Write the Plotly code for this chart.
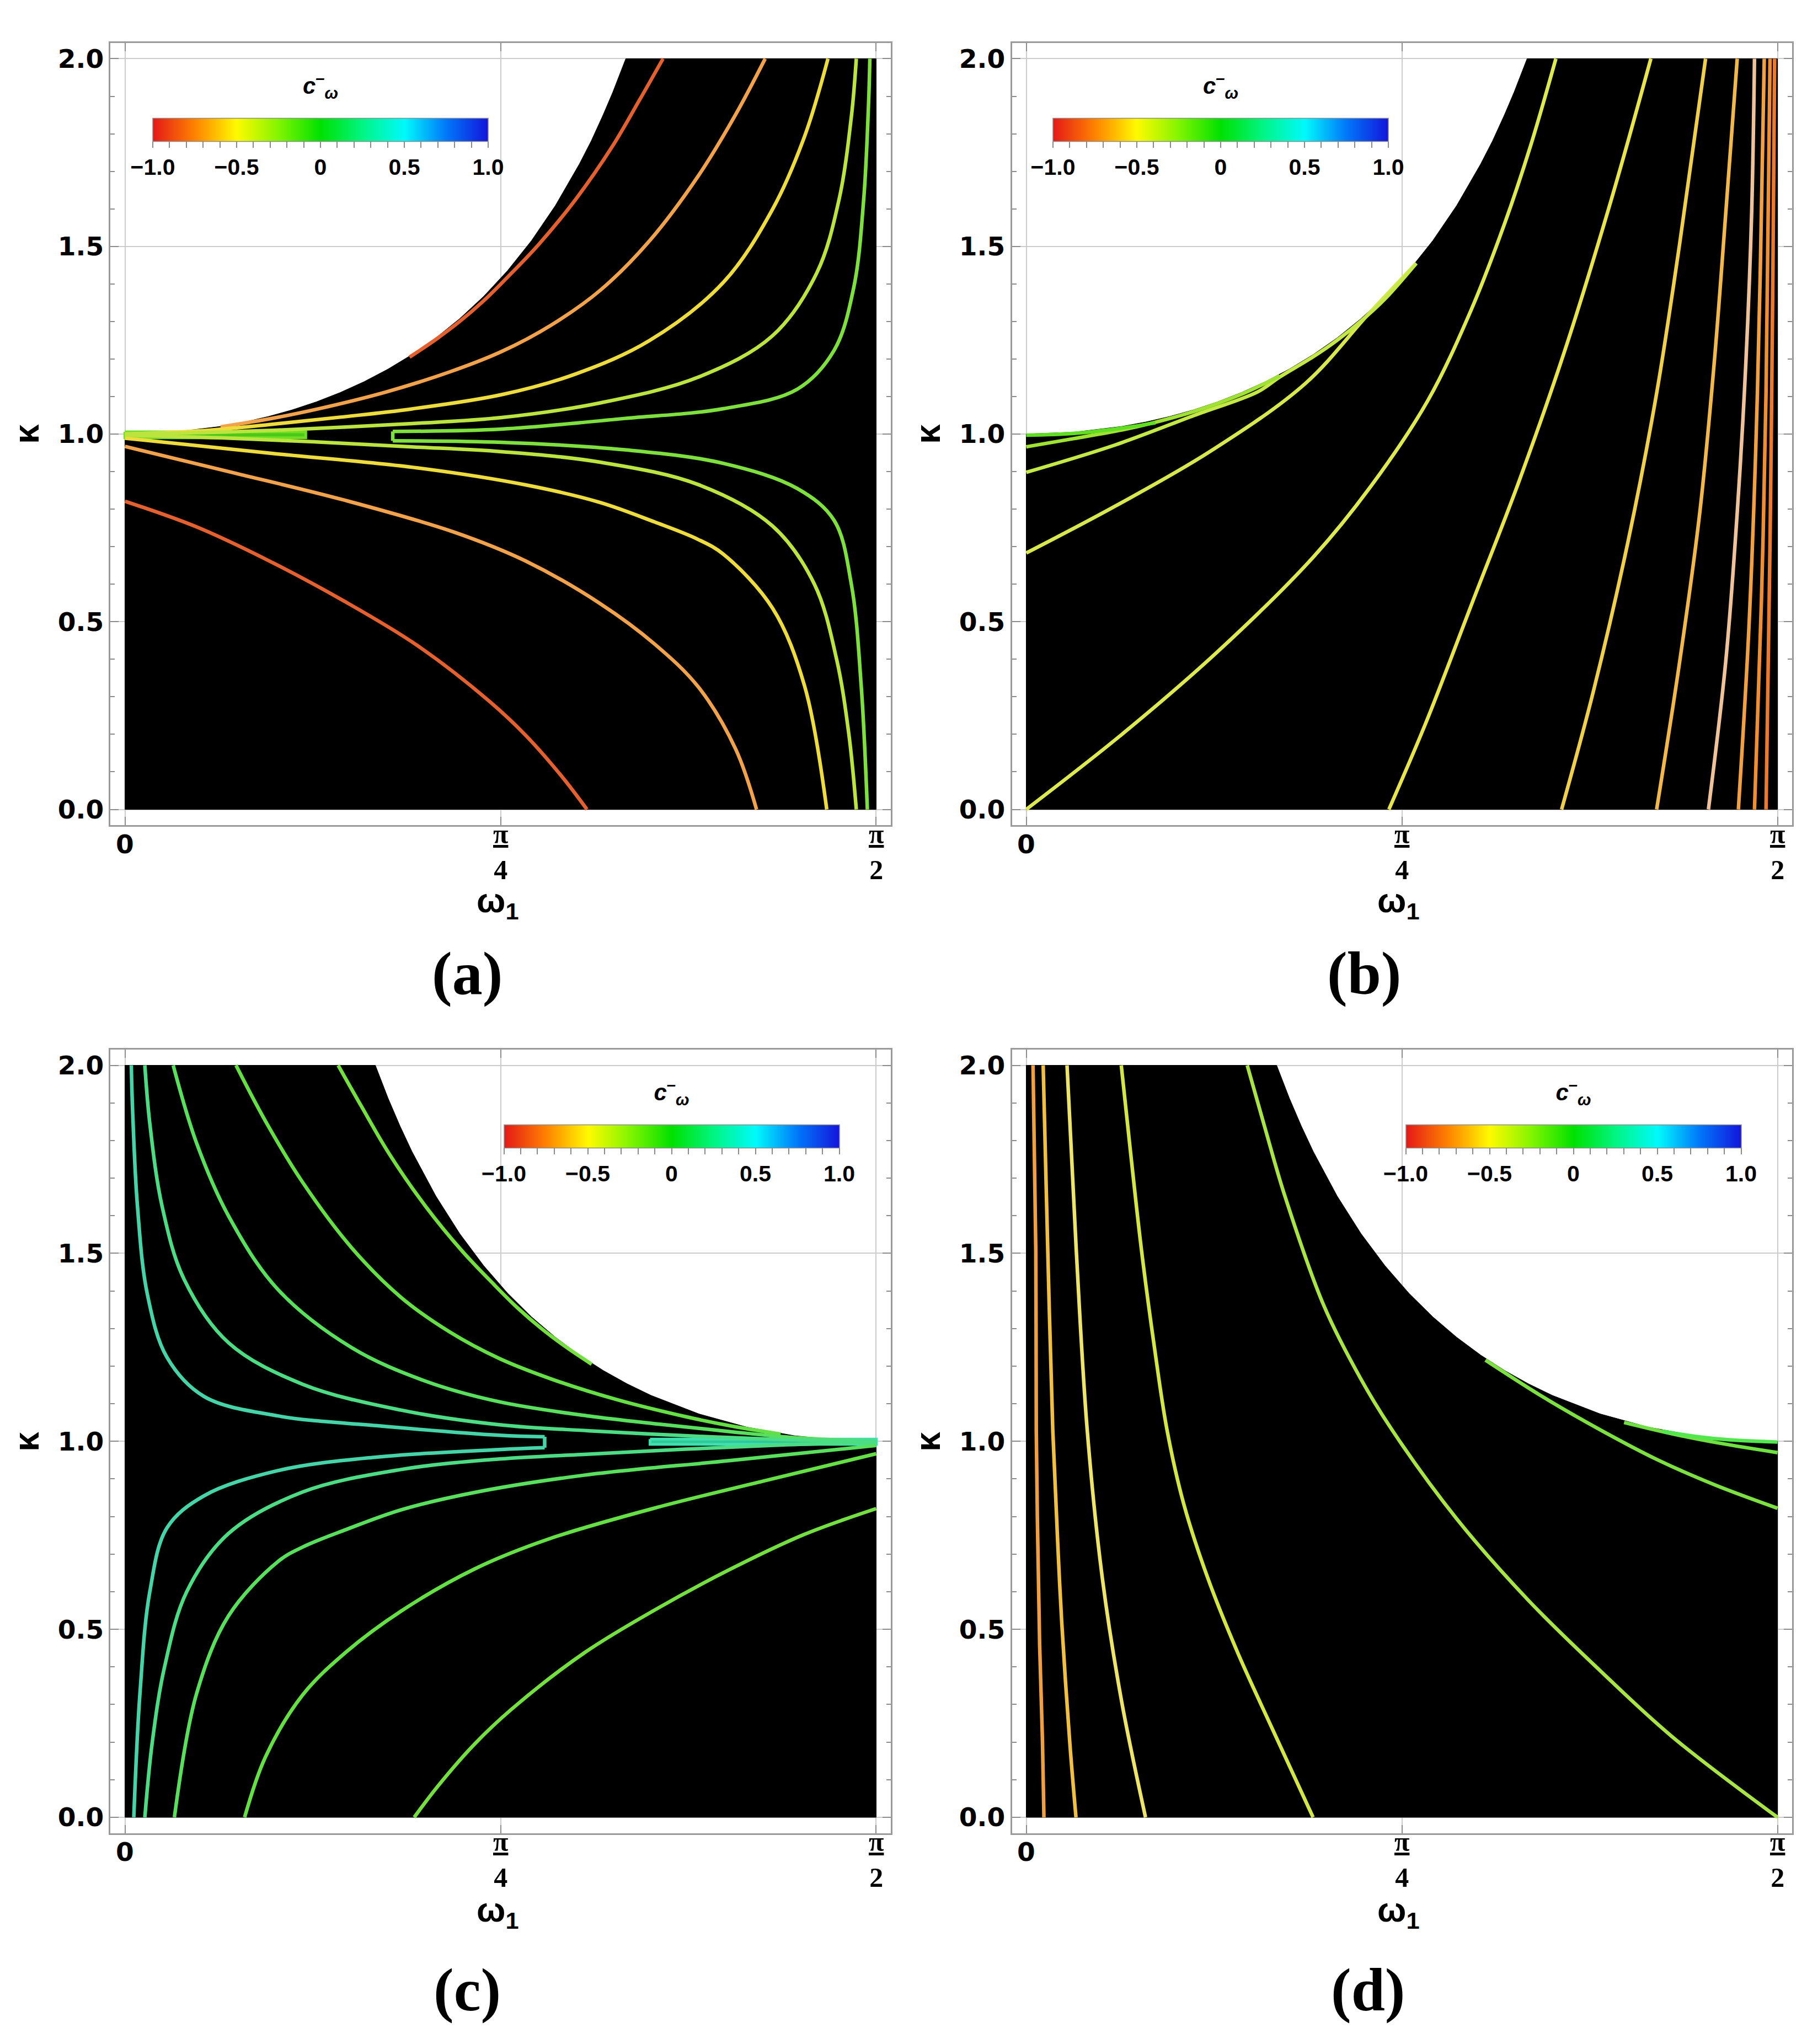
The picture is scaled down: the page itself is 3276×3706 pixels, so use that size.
import math
import plotly.graph_objects as go

# ---------------- data ----------------
# boundary of the allowed (black) region
sec_w = [0.0, 0.1, 0.2, 0.25, 0.3, 0.35, 0.4, 0.45, 0.5, 0.55, 0.6, 0.65, 0.7, 0.75, 0.8, 0.85, 0.9, 0.95, 0.975, 1.0, 1.02, 1.0472]
sec_k = [1.0, 1.005, 1.0203, 1.0321, 1.0468, 1.0645, 1.0857, 1.1106, 1.1395, 1.1730, 1.2116, 1.2561, 1.3075, 1.3667, 1.4353, 1.5152, 1.6087, 1.7191, 1.781, 1.8508, 1.9106, 2.0]
csc_w = [0.5236, 0.55, 0.575, 0.6, 0.65, 0.7, 0.75, 0.8, 0.85, 0.9, 0.95, 1.0, 1.05, 1.1, 1.2, 1.3, 1.4, 1.5, 1.5708]
csc_k = [2.0, 1.9131, 1.8389, 1.7710, 1.6524, 1.5523, 1.4671, 1.3940, 1.3310, 1.2767, 1.2294, 1.1884, 1.1529, 1.1221, 1.0729, 1.0378, 1.0148, 1.0025, 1.0]

# panel (a)
a_u1_w = [0.595, 0.65, 0.70, 0.75, 0.80, 0.865, 0.9422, 1.0194, 1.076, 1.125]
a_u1_k = [1.205, 1.252, 1.300, 1.355, 1.418, 1.505, 1.625, 1.767, 1.8902, 2.0]
a_l1_w = [0.0, 0.151, 0.304, 0.4573, 0.6103, 0.7633, 0.8398, 0.9163, 0.966]
a_l1_k = [0.821, 0.752, 0.6605, 0.5556, 0.4375, 0.2866, 0.1948, 0.0833, 0.0]
a_u2_w = [0.20, 0.234, 0.30, 0.40, 0.5455, 0.68, 0.7877, 0.8907, 0.9937, 1.0966, 1.1996, 1.2769, 1.3386]
a_u2_k = [1.019, 1.026, 1.040, 1.066, 1.112, 1.166, 1.220, 1.290, 1.383, 1.5145, 1.6894, 1.8514, 2.0]
a_l2_w = [0.0, 0.2278, 0.4573, 0.6868, 0.8398, 0.9928, 1.108, 1.1996, 1.2769, 1.3206]
a_l2_k = [0.967, 0.8967, 0.8245, 0.7393, 0.6605, 0.549, 0.44, 0.325, 0.1608, 0.0]
a_u3_w = [0.0, 0.15, 0.30, 0.45, 0.60, 0.7877, 0.9422, 1.0966, 1.2511, 1.3541, 1.4210, 1.4699]
a_u3_k = [1.0, 1.008, 1.025, 1.045, 1.067, 1.105, 1.160, 1.249, 1.404, 1.599, 1.793, 2.0]
a_l3_w = [0.0, 0.304, 0.6103, 0.8398, 0.9928, 1.108, 1.1978, 1.2511, 1.3541, 1.4210, 1.4674]
a_l3_k = [0.989, 0.949, 0.910, 0.864, 0.818, 0.7655, 0.7196, 0.680, 0.536, 0.329, 0.0]
a_u4_w = [0.0, 0.2, 0.4, 0.6, 0.7877, 0.9937, 1.1996, 1.3541, 1.4468, 1.4931, 1.5188, 1.5292]
a_u4_k = [1.0, 1.005, 1.015, 1.028, 1.044, 1.083, 1.152, 1.262, 1.430, 1.625, 1.845, 2.0]
a_l4_w = [0.0, 0.2, 0.4, 0.6, 0.7877, 0.9937, 1.1996, 1.3541, 1.4416, 1.4880, 1.5137, 1.5292]
a_l4_k = [0.997, 0.990, 0.979, 0.966, 0.953, 0.925, 0.865, 0.755, 0.600, 0.400, 0.1995, 0.0]
a_u5_w = [0.56, 0.7877, 1.0452, 1.2511, 1.4056, 1.4828, 1.5240, 1.5446, 1.5549, 1.5575]
a_u5_k = [1.007, 1.0132, 1.0417, 1.0676, 1.1194, 1.2231, 1.3915, 1.6247, 1.8838, 2.0]
a_l5_w = [0.56, 0.7877, 1.0452, 1.2511, 1.4056, 1.4828, 1.5188, 1.5394, 1.5523]
a_l5_k = [0.982, 0.978, 0.958, 0.922, 0.855, 0.770, 0.600, 0.330, 0.0]
a_h2_w = [0.56, 0.56]
a_h2_k = [1.007, 0.982]
a_h1_w = [0.0, 0.378, 0.378, 0.0, 0.0]
a_h1_k = [1.006, 1.006, 0.990, 0.990, 1.006]

# panel (b)
b_1_w = [0.0, 0.1, 0.2, 0.27]
b_1_k = [0.997, 1.002, 1.016, 1.030]
b_2_w = [0.0, 0.1, 0.2, 0.2654, 0.35, 0.45, 0.53]
b_2_k = [0.966, 0.988, 1.011, 1.030, 1.060, 1.106, 1.155]
b_3_w = [0.0, 0.186, 0.3517, 0.4841, 0.53, 0.6, 0.65, 0.7, 0.75, 0.8155]
b_3_k = [0.898, 0.971, 1.050, 1.1126, 1.152, 1.206, 1.250, 1.301, 1.360, 1.455]
b_4_w = [0.0, 0.186, 0.3848, 0.5835, 0.7161, 0.8155]
b_4_k = [0.683, 0.808, 0.954, 1.1347, 1.3205, 1.455]
b_5_w = [0.0, 0.2, 0.4, 0.6, 0.72, 0.84, 0.93, 1.0, 1.055, 1.1074]
b_5_k = [0.0, 0.20, 0.42, 0.672, 0.86, 1.09, 1.33, 1.56, 1.77, 2.0]
b_6_w = [0.7583, 0.8366, 0.9329, 1.0292, 1.1255, 1.2218, 1.3060]
b_6_k = [0.0, 0.2339, 0.5521, 0.8703, 1.2204, 1.6181, 2.0]
b_7_w = [1.1194, 1.1856, 1.2579, 1.3181, 1.3662, 1.4204]
b_7_k = [0.0, 0.3134, 0.7112, 1.109, 1.5068, 2.0]
b_8_w = [1.3181, 1.3662, 1.4083, 1.4384, 1.4625, 1.4866]
b_8_k = [0.0, 0.393, 0.7908, 1.1886, 1.5863, 2.0]
b_9_w = [1.4264, 1.4625, 1.4866, 1.5046, 1.5167, 1.5227]
b_9_k = [0.0, 0.393, 0.7908, 1.1886, 1.5863, 2.0]
b_10_w = [1.4890, 1.5106, 1.5251, 1.5347, 1.5431]
b_10_k = [0.0, 0.4726, 0.9499, 1.4272, 2.0]
b_11_w = [1.5227, 1.5371, 1.5468, 1.5552]
b_11_k = [0.0, 0.5521, 1.109, 2.0]
b_12_w = [1.5468, 1.5552, 1.5612, 1.5648]
b_12_k = [0.0, 0.7112, 1.4272, 2.0]

# panel (c)
c_u1_w = [0.4458, 0.4948, 0.5514, 0.6286, 0.7058, 0.7708, 0.8208, 0.8708, 0.9208, 0.9758]
c_u1_k = [2.0, 1.8902, 1.767, 1.625, 1.505, 1.418, 1.355, 1.300, 1.252, 1.205]
c_l1_w = [0.6048, 0.6545, 0.7310, 0.8075, 0.9605, 1.1135, 1.2668, 1.4198, 1.5708]
c_l1_k = [0.0, 0.0833, 0.1948, 0.2866, 0.4375, 0.5556, 0.6605, 0.752, 0.821]
c_u2_w = [0.2322, 0.2939, 0.3712, 0.4742, 0.5771, 0.6801, 0.7831, 0.8908, 1.0253, 1.1708, 1.2708, 1.3368, 1.3708]
c_u2_k = [2.0, 1.8514, 1.6894, 1.5145, 1.383, 1.290, 1.220, 1.166, 1.112, 1.066, 1.040, 1.026, 1.019]
c_l2_w = [0.2502, 0.2939, 0.3712, 0.4628, 0.5780, 0.7310, 0.8840, 1.1135, 1.3430, 1.5708]
c_l2_k = [0.0, 0.1608, 0.325, 0.44, 0.549, 0.6605, 0.7393, 0.8245, 0.8967, 0.967]
c_u3_w = [0.1009, 0.1498, 0.2167, 0.3197, 0.4742, 0.6286, 0.7831, 0.9708, 1.1208, 1.2708, 1.4208, 1.5708]
c_u3_k = [2.0, 1.793, 1.599, 1.404, 1.249, 1.160, 1.105, 1.067, 1.045, 1.025, 1.008, 1.0]
c_l3_w = [0.1034, 0.1498, 0.2167, 0.3197, 0.3730, 0.4628, 0.5780, 0.7310, 0.9605, 1.2668, 1.5708]
c_l3_k = [0.0, 0.329, 0.536, 0.680, 0.7196, 0.7655, 0.818, 0.864, 0.910, 0.949, 0.989]
c_u4_w = [0.0416, 0.0520, 0.0777, 0.1240, 0.2167, 0.3712, 0.5771, 0.7831, 0.9708, 1.1708, 1.3708, 1.5708]
c_u4_k = [2.0, 1.845, 1.625, 1.430, 1.262, 1.152, 1.083, 1.044, 1.028, 1.015, 1.005, 1.0]
c_l4_w = [0.0416, 0.0571, 0.0828, 0.1292, 0.2167, 0.3712, 0.5771, 0.7831, 0.9708, 1.1708, 1.3708, 1.5708]
c_l4_k = [0.0, 0.1995, 0.400, 0.600, 0.755, 0.865, 0.925, 0.953, 0.966, 0.979, 0.990, 0.997]
c_u5_w = [0.0133, 0.0159, 0.0262, 0.0468, 0.0880, 0.1652, 0.3197, 0.5256, 0.7831, 0.8776]
c_u5_k = [2.0, 1.8838, 1.6247, 1.3915, 1.2231, 1.1194, 1.0676, 1.0417, 1.016, 1.012]
c_l5_w = [0.8776, 0.7831, 0.5256, 0.3197, 0.1652, 0.0880, 0.0520, 0.0314, 0.0185]
c_l5_k = [0.983, 0.978, 0.958, 0.922, 0.855, 0.770, 0.600, 0.330, 0.0]
c_h2_w = [0.8776, 0.8776]
c_h2_k = [1.012, 0.983]
c_h1_w = [1.098, 1.5708, 1.5708, 1.098, 1.098]
c_h1_k = [1.006, 1.006, 0.992, 0.992, 1.006]

# panel (d)
d_1_w = [0.0142, 0.0200, 0.0210, 0.0280, 0.0340, 0.0370]
d_1_k = [2.0, 1.508, 1.030, 0.460, 0.198, 0.0]
d_2_w = [0.0354, 0.0450, 0.0555, 0.0661, 0.0742, 0.0911, 0.1040]
d_2_k = [2.0, 1.508, 1.030, 0.722, 0.519, 0.198, 0.0]
d_3_w = [0.0853, 0.1046, 0.1275, 0.1590, 0.1993, 0.2494]
d_3_k = [2.0, 1.508, 1.030, 0.637, 0.3093, 0.0]
d_4_w = [0.1987, 0.2180, 0.2410, 0.2680, 0.2944, 0.3294, 0.3794, 0.4414, 0.5114, 0.5997]
d_4_k = [2.0, 1.770, 1.508, 1.250, 1.030, 0.833, 0.637, 0.440, 0.244, 0.0]
d_5_w = [0.4621, 0.4986, 0.5409, 0.6228, 0.7000, 0.7650, 0.9000, 1.0500, 1.2000, 1.3500, 1.5708]
d_5_k = [2.0, 1.836, 1.652, 1.3593, 1.165, 1.030, 0.794, 0.577, 0.390, 0.215, 0.0]
d_6_w = [0.9601, 1.0805, 1.2010, 1.3214, 1.4419, 1.5708]
d_6_k = [1.216, 1.118, 1.030, 0.950, 0.883, 0.822]
d_7_w = [1.25, 1.35, 1.45, 1.5708]
d_7_k = [1.050, 1.020, 0.995, 0.970]
d_8_w = [1.33, 1.40, 1.47, 1.5708]
d_8_k = [1.027, 1.013, 1.004, 0.998]

cbar_ticks = [-1.0, -0.9, -0.8, -0.7, -0.6, -0.5, -0.4, -0.3, -0.2, -0.1, 0.0,
              0.1, 0.2, 0.3, 0.4, 0.5, 0.6, 0.7, 0.8, 0.9, 1.0]
cbar_labels = ['\u22121.0', '', '', '', '', '\u22120.5', '', '', '', '', '0',
               '', '', '', '', '0.5', '', '', '', '', '1.0']
y_ticks = [0.0, 0.5, 1.0, 1.5, 2.0]
y_labels = ['0.0', '0.5', '1.0', '1.5', '2.0']
x_ticks = [0.0, math.pi / 4, math.pi / 2]
x_labels = ['0', '<u>\u03c0</u><br>4', '<u>\u03c0</u><br>2']

# ---------------- styling ----------------
W, H = 3276, 3706
HALF_PI = math.pi / 2
RAINBOW = [[0.0, 'rgb(228,24,24)'], [0.125, 'rgb(255,130,0)'], [0.25, 'rgb(255,250,0)'],
           [0.375, 'rgb(130,245,0)'], [0.5, 'rgb(0,225,0)'], [0.625, 'rgb(0,245,130)'],
           [0.75, 'rgb(0,250,250)'], [0.875, 'rgb(0,120,250)'], [1.0, 'rgb(20,20,220)']]
SANS = 'Liberation Sans, Arial, sans-serif'
WIDE = 'DejaVu Sans, Liberation Sans, sans-serif'
SERIF = 'Liberation Serif, Times New Roman, serif'
LW = 6.5

fig = go.Figure()


def axn(i):
    return ('x', 'y') if i == 1 else ('x%d' % i, 'y%d' % i)


def add_line(i, w, k, color, shape='spline', width=LW, fill=None, fillcolor=None):
    xa, ya = axn(i)
    fig.add_trace(go.Scatter(
        x=w, y=k, mode='lines', xaxis=xa, yaxis=ya,
        line=dict(color=color, width=width, shape=shape, smoothing=1.0),
        fill=fill, fillcolor=fillcolor, hoverinfo='skip', showlegend=False))


def add_region(i, upper):
    xa, ya = axn(i)
    if upper == 'sec':
        xs = [0.0] + sec_w + [HALF_PI, HALF_PI, 0.0]
        ys = [0.0] + sec_k + [2.0, 0.0, 0.0]
    else:
        xs = [0.0, 0.0] + csc_w + [HALF_PI, 0.0]
        ys = [0.0, 2.0] + csc_k + [0.0, 0.0]
    fig.add_trace(go.Scatter(x=xs, y=ys, mode='lines', fill='toself', fillcolor='black',
                             line=dict(color='black', width=1), xaxis=xa, yaxis=ya,
                             hoverinfo='skip', showlegend=False))


def add_cbar(i, xc, ytop):
    xa, ya = axn(i)
    fig.add_trace(go.Scatter(
        x=[None], y=[None], mode='markers', xaxis=xa, yaxis=ya, showlegend=False,
        hoverinfo='skip',
        marker=dict(color=[0.0], cmin=-1, cmax=1, colorscale=RAINBOW, showscale=True,
                    colorbar=dict(
                        orientation='h', x=xc / W, xanchor='center', y=1 - ytop / H, yanchor='top',
                        ypad=0, xpad=0, lenmode='pixels', len=608, thickness=42,
                        outlinewidth=1.5, outlinecolor='#8a8a8a',
                        tickmode='array', tickvals=cbar_ticks, ticktext=cbar_labels,
                        ticks='outside', ticklen=11, tickwidth=2, tickcolor='#8a8a8a',
                        tickfont=dict(family=SANS, size=41, color='black', weight='bold'),
                        title=dict(text='c<sup>\u2013</sup><sub>\u03c9</sub>', side='top',
                                   font=dict(family=SANS, size=42, color='black',
                                             weight='bold', style='italic')),
                    ))))


# panel (a)
add_region(1, 'sec')
add_line(1, a_h1_w, a_h1_k, '#6ee024', shape='linear', width=5, fill='toself', fillcolor='#4cc818')
for w, k, c in [(a_l1_w, a_l1_k, '#e4602e'), (a_u1_w, a_u1_k, '#e4602e'),
                (a_l2_w, a_l2_k, '#f2a24a'), (a_u2_w, a_u2_k, '#f2a24a'),
                (a_l3_w, a_l3_k, '#eedc3c'), (a_u3_w, a_u3_k, '#eedc3c'),
                (a_l4_w, a_l4_k, '#bce43e'), (a_u4_w, a_u4_k, '#bce43e'),
                (a_l5_w, a_l5_k, '#7ee03c'), (a_u5_w, a_u5_k, '#7ee03c')]:
    add_line(1, w, k, c)
add_line(1, a_h2_w, a_h2_k, '#7ee03c', shape='linear')

# panel (b)
add_region(2, 'sec')
for w, k, c in [(b_4_w, b_4_k, '#d6e84c'), (b_3_w, b_3_k, '#c4e844'),
                (b_2_w, b_2_k, '#9ee232'), (b_1_w, b_1_k, '#5ee020'),
                (b_5_w, b_5_k, '#dcea50'), (b_6_w, b_6_k, '#e8e44c'),
                (b_7_w, b_7_k, '#f0d04a'), (b_8_w, b_8_k, '#f2b84a'),
                (b_9_w, b_9_k, '#f0c29a'), (b_10_w, b_10_k, '#f2a040'),
                (b_11_w, b_11_k, '#f08e32'), (b_12_w, b_12_k, '#ec7a2c')]:
    add_line(2, w, k, c)

# panel (c)
add_region(3, 'csc')
add_line(3, c_h1_w, c_h1_k, '#3ee0b0', shape='linear', width=5, fill='toself', fillcolor='#30c898')
for w, k, c in [(c_l1_w, c_l1_k, '#74e040'), (c_u1_w, c_u1_k, '#74e040'),
                (c_l2_w, c_l2_k, '#64e044'), (c_u2_w, c_u2_k, '#64e044'),
                (c_l3_w, c_l3_k, '#58e05c'), (c_u3_w, c_u3_k, '#58e05c'),
                (c_l4_w, c_l4_k, '#4cdc84'), (c_u4_w, c_u4_k, '#4cdc84'),
                (c_l5_w, c_l5_k, '#44d4a8'), (c_u5_w, c_u5_k, '#44d4a8')]:
    add_line(3, w, k, c)
add_line(3, c_h2_w, c_h2_k, '#44d4a8', shape='linear')

# panel (d)
add_region(4, 'csc')
for w, k, c in [(d_1_w, d_1_k, '#f0a040'), (d_2_w, d_2_k, '#f2c040'),
                (d_3_w, d_3_k, '#eee468'), (d_4_w, d_4_k, '#d4e644'),
                (d_5_w, d_5_k, '#a8e444'), (d_6_w, d_6_k, '#7ce040'),
                (d_7_w, d_7_k, '#6ee040'), (d_8_w, d_8_k, '#50e84c')]:
    add_line(4, w, k, c)

# colorbars
add_cbar(1, 573, 147)
add_cbar(2, 2205, 147)
add_cbar(3, 1209.5, 1972)
add_cbar(4, 2844.5, 1972)

xdoms = {1: [0.05876, 0.49039], 2: [0.55754, 0.98917], 3: [0.05876, 0.49039], 4: [0.55754, 0.98917]}
ydoms = {1: [0.59846, 0.98114], 2: [0.59846, 0.98114], 3: [0.10534, 0.48869], 4: [0.10534, 0.48869]}

layout = dict(width=W, height=H, margin=dict(l=0, r=0, t=0, b=0),
              paper_bgcolor='white', plot_bgcolor='white', showlegend=False)
for i in range(1, 5):
    xs = 'xaxis' if i == 1 else 'xaxis%d' % i
    ys = 'yaxis' if i == 1 else 'yaxis%d' % i
    xa, ya = axn(i)
    layout[xs] = dict(domain=xdoms[i], anchor=ya, range=[-0.03, 1.6008],
                      tickmode='array', tickvals=x_ticks, showticklabels=False,
                      ticks='inside', ticklen=15, tickwidth=2, tickcolor='#8c8c8c',
                      showline=True, linecolor='#9a9a9a', linewidth=3, mirror='ticks',
                      showgrid=True, gridcolor='#cccccc', gridwidth=2, zeroline=False,
                      fixedrange=True)
    layout[ys] = dict(domain=ydoms[i], anchor=xa, range=[-0.042, 2.042],
                      tickmode='array', tickvals=y_ticks, ticktext=y_labels,
                      ticks='inside', ticklen=15, tickwidth=2, tickcolor='#8c8c8c',
                      minor=dict(dtick=0.1, tick0=0, ticks='inside', ticklen=8, tickwidth=2,
                                 tickcolor='#8c8c8c', showgrid=False),
                      showline=True, linecolor='#9a9a9a', linewidth=3, mirror='ticks',
                      showgrid=True, gridcolor='#cccccc', gridwidth=2, zeroline=False,
                      tickfont=dict(family=WIDE, size=47, color='black', weight='bold'),
                      fixedrange=True)

ann = []
# x tick labels (0, pi/4, pi/2) placed under each panel
for i, ty0, tyf in [(1, 1522, 1536), (2, 1522, 1536), (3, 3349, 3363), (4, 3349, 3363)]:
    xa, _ = axn(i)
    for v, t in zip(x_ticks, x_labels):
        if t == '0':
            ann.append(dict(x=v, y=1 - ty0 / H, xref=xa, yref='paper', text=t, showarrow=False,
                            xanchor='center', yanchor='middle',
                            font=dict(family=WIDE, size=47, color='black', weight='bold')))
        else:
            ann.append(dict(x=v, y=1 - tyf / H, xref=xa, yref='paper', text=t, showarrow=False,
                            xanchor='center', yanchor='middle',
                            font=dict(family=SERIF, size=50, color='black', weight='bold')))

for (kx, ky), (wx, wy), (lx, ly), lab in [((40, 779), (895, 1629), (839, 1757), '(a)'),
                                          ((1674, 779), (2527, 1629), (2465, 1757), '(b)'),
                                          ((40, 2606), (895, 3459), (839, 3600), '(c)'),
                                          ((1674, 2606), (2527, 3459), (2472, 3600), '(d)')]:
    ann.append(dict(x=kx / W, y=1 - ky / H, xref='paper', yref='paper', text='<b>\u03ba</b>',
                    showarrow=False, textangle=-90, xanchor='center', yanchor='middle',
                    font=dict(family=SANS, size=64, color='black')))
    ann.append(dict(x=wx / W, y=1 - wy / H, xref='paper', yref='paper',
                    text='<b>\u03c9<sub>1</sub></b>', showarrow=False,
                    xanchor='center', yanchor='middle',
                    font=dict(family=SANS, size=62, color='black')))
    ann.append(dict(x=lx / W, y=1 - ly / H, xref='paper', yref='paper', text='<b>%s</b>' % lab,
                    showarrow=False, xanchor='center', yanchor='middle',
                    font=dict(family=SERIF, size=110, color='black')))
layout['annotations'] = ann

fig.update_layout(**layout)
fig.write_html('out.html')
